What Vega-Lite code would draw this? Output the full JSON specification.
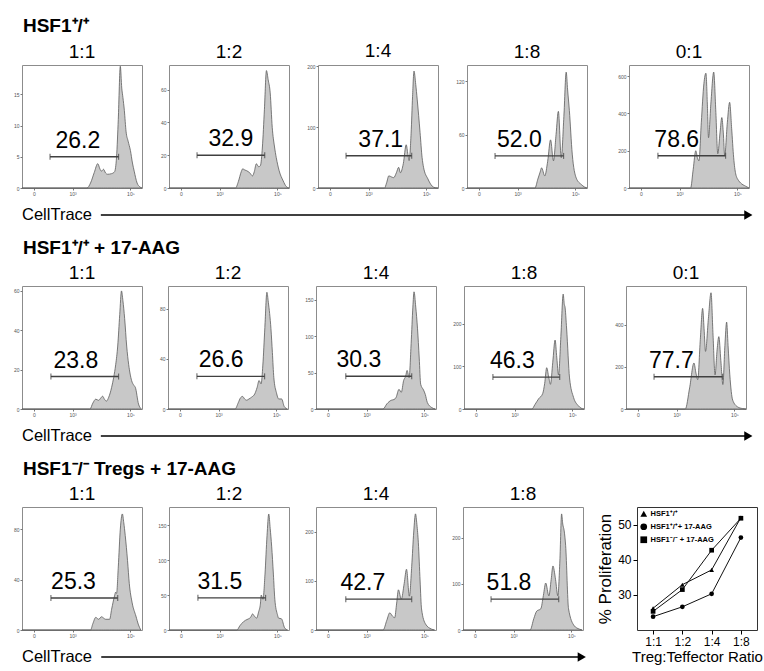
{
"$schema":"https://vega.github.io/schema/vega-lite/v6.json",
"padding":{"left":12,"top":16,"right":0,"bottom":0},
"background":"#ffffff",
"spacing":14,
"resolve":{"scale":{"shape":"independent"},"legend":{"shape":"independent"}},
"datasets":{
"hist":[
{"panel":"a1","x":1.25,"y":0},{"panel":"a1","x":3.5,"y":0},{"panel":"a1","x":3.62,"y":0.8},{"panel":"a1","x":3.75,"y":2.5},{"panel":"a1","x":3.87,"y":3.9},{"panel":"a1","x":3.95,"y":3.0},{"panel":"a1","x":4.0,"y":2.7},{"panel":"a1","x":4.07,"y":3.0},{"panel":"a1","x":4.14,"y":2.4},{"panel":"a1","x":4.21,"y":2.2},{"panel":"a1","x":4.35,"y":2.3},{"panel":"a1","x":4.45,"y":2.6},{"panel":"a1","x":4.52,"y":5},{"panel":"a1","x":4.58,"y":11},{"panel":"a1","x":4.65,"y":19.5},{"panel":"a1","x":4.7,"y":16},{"panel":"a1","x":4.74,"y":14.5},{"panel":"a1","x":4.79,"y":12.4},{"panel":"a1","x":4.85,"y":9},{"panel":"a1","x":4.92,"y":7.5},{"panel":"a1","x":5.0,"y":6},{"panel":"a1","x":5.07,"y":4},{"panel":"a1","x":5.13,"y":2.7},{"panel":"a1","x":5.23,"y":0.8},{"panel":"a1","x":5.32,"y":0.2},{"panel":"a1","x":5.4,"y":0},
{"panel":"a2","x":1.25,"y":0},{"panel":"a2","x":3.55,"y":0},{"panel":"a2","x":3.65,"y":4},{"panel":"a2","x":3.75,"y":10},{"panel":"a2","x":3.8,"y":11.7},{"panel":"a2","x":3.87,"y":11},{"panel":"a2","x":3.94,"y":10.5},{"panel":"a2","x":4.04,"y":9.3},{"panel":"a2","x":4.14,"y":7.4},{"panel":"a2","x":4.2,"y":10},{"panel":"a2","x":4.27,"y":14.8},{"panel":"a2","x":4.35,"y":13},{"panel":"a2","x":4.41,"y":13.6},{"panel":"a2","x":4.48,"y":25},{"panel":"a2","x":4.55,"y":48},{"panel":"a2","x":4.62,"y":71.6},{"panel":"a2","x":4.68,"y":66},{"panel":"a2","x":4.75,"y":58},{"panel":"a2","x":4.82,"y":37},{"panel":"a2","x":4.9,"y":25},{"panel":"a2","x":4.96,"y":18.5},{"panel":"a2","x":5.06,"y":10.5},{"panel":"a2","x":5.2,"y":4.3},{"panel":"a2","x":5.3,"y":1},{"panel":"a2","x":5.4,"y":0},
{"panel":"a3","x":1.25,"y":0},{"panel":"a3","x":3.55,"y":0},{"panel":"a3","x":3.62,"y":8},{"panel":"a3","x":3.7,"y":20},{"panel":"a3","x":3.8,"y":18},{"panel":"a3","x":3.87,"y":17},{"panel":"a3","x":3.96,"y":25},{"panel":"a3","x":4.04,"y":34},{"panel":"a3","x":4.1,"y":25},{"panel":"a3","x":4.2,"y":40},{"panel":"a3","x":4.3,"y":71},{"panel":"a3","x":4.36,"y":55},{"panel":"a3","x":4.4,"y":45},{"panel":"a3","x":4.47,"y":90},{"panel":"a3","x":4.52,"y":150},{"panel":"a3","x":4.57,"y":192},{"panel":"a3","x":4.63,"y":170},{"panel":"a3","x":4.68,"y":146},{"panel":"a3","x":4.78,"y":91},{"panel":"a3","x":4.85,"y":50},{"panel":"a3","x":4.9,"y":34},{"panel":"a3","x":5.05,"y":15},{"panel":"a3","x":5.2,"y":3},{"panel":"a3","x":5.3,"y":0.5},{"panel":"a3","x":5.4,"y":0},
{"panel":"a4","x":1.25,"y":0},{"panel":"a4","x":3.6,"y":0},{"panel":"a4","x":3.7,"y":10},{"panel":"a4","x":3.78,"y":18},{"panel":"a4","x":3.83,"y":22.6},{"panel":"a4","x":3.94,"y":13.6},{"panel":"a4","x":4.04,"y":30},{"panel":"a4","x":4.14,"y":54},{"panel":"a4","x":4.24,"y":30.5},{"panel":"a4","x":4.33,"y":60},{"panel":"a4","x":4.41,"y":86},{"panel":"a4","x":4.51,"y":34},{"panel":"a4","x":4.6,"y":80},{"panel":"a4","x":4.68,"y":130},{"panel":"a4","x":4.73,"y":110},{"panel":"a4","x":4.79,"y":87},{"panel":"a4","x":4.89,"y":38},{"panel":"a4","x":5.03,"y":11},{"panel":"a4","x":5.2,"y":4},{"panel":"a4","x":5.32,"y":1},{"panel":"a4","x":5.4,"y":0},
{"panel":"a5","x":1.25,"y":0},{"panel":"a5","x":3.38,"y":0},{"panel":"a5","x":3.47,"y":100},{"panel":"a5","x":3.56,"y":200},{"panel":"a5","x":3.62,"y":160},{"panel":"a5","x":3.67,"y":146},{"panel":"a5","x":3.75,"y":350},{"panel":"a5","x":3.84,"y":560},{"panel":"a5","x":3.91,"y":616},{"panel":"a5","x":3.96,"y":450},{"panel":"a5","x":4.0,"y":270},{"panel":"a5","x":4.08,"y":450},{"panel":"a5","x":4.18,"y":622},{"panel":"a5","x":4.25,"y":420},{"panel":"a5","x":4.32,"y":184},{"panel":"a5","x":4.4,"y":300},{"panel":"a5","x":4.46,"y":378},{"panel":"a5","x":4.51,"y":300},{"panel":"a5","x":4.56,"y":173},{"panel":"a5","x":4.65,"y":350},{"panel":"a5","x":4.73,"y":460},{"panel":"a5","x":4.8,"y":320},{"panel":"a5","x":4.87,"y":162},{"panel":"a5","x":4.94,"y":76},{"panel":"a5","x":5.04,"y":40},{"panel":"a5","x":5.11,"y":27},{"panel":"a5","x":5.28,"y":10},{"panel":"a5","x":5.4,"y":0},
{"panel":"b1","x":1.25,"y":0},{"panel":"b1","x":3.6,"y":0},{"panel":"b1","x":3.7,"y":3},{"panel":"b1","x":3.8,"y":5},{"panel":"b1","x":3.9,"y":4.4},{"panel":"b1","x":3.97,"y":5.5},{"panel":"b1","x":4.04,"y":6.5},{"panel":"b1","x":4.1,"y":5},{"panel":"b1","x":4.17,"y":4},{"panel":"b1","x":4.25,"y":6},{"panel":"b1","x":4.35,"y":11},{"panel":"b1","x":4.42,"y":16},{"panel":"b1","x":4.49,"y":22.5},{"panel":"b1","x":4.56,"y":32},{"panel":"b1","x":4.63,"y":48},{"panel":"b1","x":4.69,"y":60},{"panel":"b1","x":4.74,"y":55},{"panel":"b1","x":4.8,"y":46},{"panel":"b1","x":4.87,"y":32},{"panel":"b1","x":4.94,"y":22.5},{"panel":"b1","x":5.04,"y":14.5},{"panel":"b1","x":5.12,"y":12},{"panel":"b1","x":5.17,"y":11},{"panel":"b1","x":5.28,"y":2.5},{"panel":"b1","x":5.38,"y":0},
{"panel":"b2","x":1.25,"y":0},{"panel":"b2","x":3.57,"y":0},{"panel":"b2","x":3.68,"y":5},{"panel":"b2","x":3.76,"y":9},{"panel":"b2","x":3.83,"y":10},{"panel":"b2","x":3.9,"y":8},{"panel":"b2","x":3.97,"y":7},{"panel":"b2","x":4.05,"y":8},{"panel":"b2","x":4.14,"y":9.4},{"panel":"b2","x":4.25,"y":12},{"panel":"b2","x":4.33,"y":17},{"panel":"b2","x":4.4,"y":22.7},{"panel":"b2","x":4.47,"y":20},{"panel":"b2","x":4.53,"y":35},{"panel":"b2","x":4.6,"y":65},{"panel":"b2","x":4.67,"y":93},{"panel":"b2","x":4.72,"y":85},{"panel":"b2","x":4.81,"y":64},{"panel":"b2","x":4.86,"y":45},{"panel":"b2","x":4.91,"y":25},{"panel":"b2","x":5.0,"y":13},{"panel":"b2","x":5.08,"y":8},{"panel":"b2","x":5.18,"y":8},{"panel":"b2","x":5.27,"y":2},{"panel":"b2","x":5.38,"y":0},
{"panel":"b3","x":1.25,"y":0},{"panel":"b3","x":3.57,"y":0},{"panel":"b3","x":3.7,"y":7},{"panel":"b3","x":3.85,"y":12},{"panel":"b3","x":3.95,"y":13},{"panel":"b3","x":4.02,"y":16},{"panel":"b3","x":4.12,"y":27},{"panel":"b3","x":4.2,"y":23},{"panel":"b3","x":4.28,"y":39},{"panel":"b3","x":4.35,"y":45},{"panel":"b3","x":4.4,"y":53},{"panel":"b3","x":4.47,"y":43},{"panel":"b3","x":4.54,"y":90},{"panel":"b3","x":4.6,"y":140},{"panel":"b3","x":4.64,"y":161},{"panel":"b3","x":4.7,"y":140},{"panel":"b3","x":4.76,"y":111},{"panel":"b3","x":4.82,"y":70},{"panel":"b3","x":4.87,"y":34},{"panel":"b3","x":4.97,"y":26},{"panel":"b3","x":5.03,"y":20},{"panel":"b3","x":5.1,"y":9},{"panel":"b3","x":5.25,"y":2},{"panel":"b3","x":5.38,"y":0},
{"panel":"b4","x":1.25,"y":0},{"panel":"b4","x":3.6,"y":0},{"panel":"b4","x":3.7,"y":10},{"panel":"b4","x":3.83,"y":24},{"panel":"b4","x":3.97,"y":36},{"panel":"b4","x":4.04,"y":60},{"panel":"b4","x":4.11,"y":97},{"panel":"b4","x":4.18,"y":75},{"panel":"b4","x":4.24,"y":58},{"panel":"b4","x":4.32,"y":110},{"panel":"b4","x":4.4,"y":162},{"panel":"b4","x":4.46,"y":120},{"panel":"b4","x":4.52,"y":80},{"panel":"b4","x":4.6,"y":170},{"panel":"b4","x":4.68,"y":270},{"panel":"b4","x":4.72,"y":245},{"panel":"b4","x":4.74,"y":241},{"panel":"b4","x":4.8,"y":188},{"panel":"b4","x":4.9,"y":73},{"panel":"b4","x":5.04,"y":27},{"panel":"b4","x":5.2,"y":8},{"panel":"b4","x":5.3,"y":2},{"panel":"b4","x":5.4,"y":0},
{"panel":"b5","x":1.25,"y":0},{"panel":"b5","x":3.3,"y":0},{"panel":"b5","x":3.45,"y":100},{"panel":"b5","x":3.6,"y":218},{"panel":"b5","x":3.67,"y":170},{"panel":"b5","x":3.73,"y":139},{"panel":"b5","x":3.82,"y":330},{"panel":"b5","x":3.9,"y":477},{"panel":"b5","x":3.95,"y":380},{"panel":"b5","x":4.0,"y":273},{"panel":"b5","x":4.1,"y":430},{"panel":"b5","x":4.19,"y":551},{"panel":"b5","x":4.26,"y":350},{"panel":"b5","x":4.33,"y":162},{"panel":"b5","x":4.4,"y":280},{"panel":"b5","x":4.46,"y":343},{"panel":"b5","x":4.53,"y":230},{"panel":"b5","x":4.6,"y":116},{"panel":"b5","x":4.67,"y":300},{"panel":"b5","x":4.73,"y":412},{"panel":"b5","x":4.78,"y":300},{"panel":"b5","x":4.84,"y":162},{"panel":"b5","x":4.94,"y":42},{"panel":"b5","x":5.11,"y":10},{"panel":"b5","x":5.28,"y":2},{"panel":"b5","x":5.4,"y":0},
{"panel":"c1","x":1.25,"y":0},{"panel":"c1","x":3.62,"y":0},{"panel":"c1","x":3.7,"y":5},{"panel":"c1","x":3.8,"y":10},{"panel":"c1","x":3.9,"y":8.5},{"panel":"c1","x":4.0,"y":10.5},{"panel":"c1","x":4.07,"y":9.5},{"panel":"c1","x":4.14,"y":8.5},{"panel":"c1","x":4.28,"y":8.5},{"panel":"c1","x":4.35,"y":16.5},{"panel":"c1","x":4.45,"y":27},{"panel":"c1","x":4.49,"y":30},{"panel":"c1","x":4.52,"y":29},{"panel":"c1","x":4.58,"y":50},{"panel":"c1","x":4.65,"y":80},{"panel":"c1","x":4.72,"y":92},{"panel":"c1","x":4.77,"y":85},{"panel":"c1","x":4.82,"y":75},{"panel":"c1","x":4.9,"y":55},{"panel":"c1","x":4.96,"y":37},{"panel":"c1","x":5.06,"y":21.5},{"panel":"c1","x":5.19,"y":11},{"panel":"c1","x":5.28,"y":4},{"panel":"c1","x":5.36,"y":0},
{"panel":"c2","x":1.25,"y":0},{"panel":"c2","x":3.6,"y":0},{"panel":"c2","x":3.7,"y":6},{"panel":"c2","x":3.83,"y":12},{"panel":"c2","x":3.9,"y":14},{"panel":"c2","x":4.0,"y":16},{"panel":"c2","x":4.07,"y":18},{"panel":"c2","x":4.14,"y":23},{"panel":"c2","x":4.2,"y":20},{"panel":"c2","x":4.28,"y":17},{"panel":"c2","x":4.35,"y":26},{"panel":"c2","x":4.41,"y":37},{"panel":"c2","x":4.44,"y":50},{"panel":"c2","x":4.5,"y":44},{"panel":"c2","x":4.57,"y":80},{"panel":"c2","x":4.64,"y":135},{"panel":"c2","x":4.7,"y":166},{"panel":"c2","x":4.75,"y":145},{"panel":"c2","x":4.8,"y":120},{"panel":"c2","x":4.86,"y":80},{"panel":"c2","x":4.91,"y":44},{"panel":"c2","x":5.0,"y":22},{"panel":"c2","x":5.04,"y":17},{"panel":"c2","x":5.14,"y":16},{"panel":"c2","x":5.25,"y":3},{"panel":"c2","x":5.35,"y":0},
{"panel":"c3","x":1.25,"y":0},{"panel":"c3","x":3.57,"y":0},{"panel":"c3","x":3.7,"y":20},{"panel":"c3","x":3.8,"y":35},{"panel":"c3","x":3.9,"y":28},{"panel":"c3","x":3.97,"y":25},{"panel":"c3","x":4.04,"y":55},{"panel":"c3","x":4.1,"y":82},{"panel":"c3","x":4.2,"y":63},{"panel":"c3","x":4.3,"y":95},{"panel":"c3","x":4.38,"y":124},{"panel":"c3","x":4.48,"y":69},{"panel":"c3","x":4.56,"y":130},{"panel":"c3","x":4.63,"y":200},{"panel":"c3","x":4.69,"y":237},{"panel":"c3","x":4.74,"y":215},{"panel":"c3","x":4.79,"y":178},{"panel":"c3","x":4.85,"y":100},{"panel":"c3","x":4.9,"y":43},{"panel":"c3","x":5.04,"y":12},{"panel":"c3","x":5.24,"y":2},{"panel":"c3","x":5.35,"y":0},
{"panel":"c4","x":1.25,"y":0},{"panel":"c4","x":3.57,"y":0},{"panel":"c4","x":3.7,"y":25},{"panel":"c4","x":3.8,"y":41},{"panel":"c4","x":3.94,"y":46},{"panel":"c4","x":4.03,"y":75},{"panel":"c4","x":4.11,"y":102},{"panel":"c4","x":4.22,"y":74},{"panel":"c4","x":4.3,"y":110},{"panel":"c4","x":4.36,"y":139},{"panel":"c4","x":4.45,"y":110},{"panel":"c4","x":4.53,"y":74},{"panel":"c4","x":4.6,"y":150},{"panel":"c4","x":4.66,"y":252},{"panel":"c4","x":4.7,"y":230},{"panel":"c4","x":4.75,"y":215},{"panel":"c4","x":4.8,"y":183},{"panel":"c4","x":4.9,"y":46},{"panel":"c4","x":5.1,"y":9},{"panel":"c4","x":5.27,"y":2},{"panel":"c4","x":5.37,"y":0}
],
"gates":[
{"panel":"a1","x1":2.22,"x2":4.59,"gy":5,"lx":3.18,"pct":"26.2"},
{"panel":"a2","x1":2.22,"x2":4.56,"gy":20,"lx":3.39,"pct":"32.9"},
{"panel":"a3","x1":2.22,"x2":4.49,"gy":53,"lx":3.42,"pct":"37.1"},
{"panel":"a4","x1":2.22,"x2":4.59,"gy":36,"lx":3.06,"pct":"52.0"},
{"panel":"a5","x1":2.25,"x2":4.59,"gy":173,"lx":2.9,"pct":"78.6"},
{"panel":"b1","x1":2.25,"x2":4.59,"gy":16.5,"lx":3.11,"pct":"23.8"},
{"panel":"b2","x1":2.25,"x2":4.59,"gy":26,"lx":3.09,"pct":"26.6"},
{"panel":"b3","x1":2.28,"x2":4.56,"gy":45,"lx":2.73,"pct":"30.3"},
{"panel":"b4","x1":2.25,"x2":4.56,"gy":75,"lx":2.92,"pct":"46.3"},
{"panel":"b5","x1":2.22,"x2":4.59,"gy":153,"lx":2.82,"pct":"77.7"},
{"panel":"c1","x1":2.25,"x2":4.56,"gy":25.4,"lx":3.03,"pct":"25.3"},
{"panel":"c2","x1":2.25,"x2":4.59,"gy":46,"lx":3.01,"pct":"31.5"},
{"panel":"c3","x1":2.28,"x2":4.56,"gy":63,"lx":2.87,"pct":"42.7"},
{"panel":"c4","x1":2.22,"x2":4.56,"gy":67,"lx":2.84,"pct":"51.8"}
],
"prolif":[
{"group":"HSF1⁺/⁺","ratio":"1:1","value":26.2},{"group":"HSF1⁺/⁺","ratio":"1:2","value":32.9},{"group":"HSF1⁺/⁺","ratio":"1:4","value":37.1},{"group":"HSF1⁺/⁺","ratio":"1:8","value":52.0},
{"group":"HSF1⁺/⁺+ 17-AAG","ratio":"1:1","value":23.8},{"group":"HSF1⁺/⁺+ 17-AAG","ratio":"1:2","value":26.6},{"group":"HSF1⁺/⁺+ 17-AAG","ratio":"1:4","value":30.3},{"group":"HSF1⁺/⁺+ 17-AAG","ratio":"1:8","value":46.3},
{"group":"HSF1⁻/⁻ + 17-AAG","ratio":"1:1","value":25.3},{"group":"HSF1⁻/⁻ + 17-AAG","ratio":"1:2","value":31.5},{"group":"HSF1⁻/⁻ + 17-AAG","ratio":"1:4","value":42.7},{"group":"HSF1⁻/⁻ + 17-AAG","ratio":"1:8","value":51.8}
],
"arrows":[
{"row":1,"label":"CellTrace","tx":0,"a":0.108,"b":0.995},
{"row":2,"label":"CellTrace","tx":0,"a":0.108,"b":0.995},
{"row":3,"label":"CellTrace","tx":0,"a":0.14,"b":0.989}
]
},
"vconcat":[
{"title":{"text":"HSF1⁺/⁺","anchor":"start","frame":"bounds","fontSize":19,"fontWeight":"bold","offset":6,"dx":10},
"spacing":10,
"vconcat":[
{"spacing":27,"hconcat":[
{"spacing":14,"hconcat":[
{"title":"1:1","width":120,"height":123,"layer":[
{"data":{"name":"hist"},"transform":[{"filter":"datum.panel=='a1'"}],"mark":{"type":"area","interpolate":"monotone","fill":"#c8c8c8","stroke":"#5c5c5c","strokeWidth":0.8},"encoding":{"x":{"field":"x","type":"quantitative","title":null,"scale":{"domain":[1.25,5.4],"nice":false,"zero":false},"axis":{"values":[1.66,2,3,4,5],"labelExpr":"datum.value<1.8?'0':datum.value<2.5?'10\\u00b2':datum.value<3.5?'10\\u00b3':datum.value<4.5?'10\\u2074':'10\\u2075'","labelOverlap":false}},"y":{"field":"y","type":"quantitative","title":null,"scale":{"domain":[0,19.7],"nice":false},"axis":{"values":[0,5,10,15]}}}},
{"data":{"name":"gates"},"transform":[{"filter":"datum.panel=='a1'"}],"layer":[
{"mark":{"type":"rule","color":"#404040","strokeWidth":1.4},"encoding":{"x":{"field":"x1","type":"quantitative","title":null},"x2":{"field":"x2"},"y":{"field":"gy","type":"quantitative","title":null}}},
{"transform":[{"fold":["x1","x2"],"as":["end","xe"]}],"mark":{"type":"tick","orient":"vertical","color":"#404040","size":6,"thickness":1.2},"encoding":{"x":{"field":"xe","type":"quantitative","title":null},"y":{"field":"gy","type":"quantitative","title":null}}},
{"mark":{"type":"text","fontSize":23,"baseline":"alphabetic","dy":-9,"color":"#000"},"encoding":{"x":{"field":"lx","type":"quantitative","title":null},"y":{"field":"gy","type":"quantitative","title":null},"text":{"field":"pct"}}}]}]},
{"title":"1:2","width":120,"height":123,"layer":[
{"data":{"name":"hist"},"transform":[{"filter":"datum.panel=='a2'"}],"mark":{"type":"area","interpolate":"monotone","fill":"#c8c8c8","stroke":"#5c5c5c","strokeWidth":0.8},"encoding":{"x":{"field":"x","type":"quantitative","title":null,"scale":{"domain":[1.25,5.4],"nice":false,"zero":false},"axis":{"values":[1.66,2,3,4,5],"labelExpr":"datum.value<1.8?'0':datum.value<2.5?'10\\u00b2':datum.value<3.5?'10\\u00b3':datum.value<4.5?'10\\u2074':'10\\u2075'","labelOverlap":false}},"y":{"field":"y","type":"quantitative","title":null,"scale":{"domain":[0,75],"nice":false},"axis":{"values":[0,20,40,60]}}}},
{"data":{"name":"gates"},"transform":[{"filter":"datum.panel=='a2'"}],"layer":[
{"mark":{"type":"rule","color":"#404040","strokeWidth":1.4},"encoding":{"x":{"field":"x1","type":"quantitative","title":null},"x2":{"field":"x2"},"y":{"field":"gy","type":"quantitative","title":null}}},
{"transform":[{"fold":["x1","x2"],"as":["end","xe"]}],"mark":{"type":"tick","orient":"vertical","color":"#404040","size":6,"thickness":1.2},"encoding":{"x":{"field":"xe","type":"quantitative","title":null},"y":{"field":"gy","type":"quantitative","title":null}}},
{"mark":{"type":"text","fontSize":23,"baseline":"alphabetic","dy":-9,"color":"#000"},"encoding":{"x":{"field":"lx","type":"quantitative","title":null},"y":{"field":"gy","type":"quantitative","title":null},"text":{"field":"pct"}}}]}]},
{"title":"1:4","width":120,"height":123,"layer":[
{"data":{"name":"hist"},"transform":[{"filter":"datum.panel=='a3'"}],"mark":{"type":"area","interpolate":"monotone","fill":"#c8c8c8","stroke":"#5c5c5c","strokeWidth":0.8},"encoding":{"x":{"field":"x","type":"quantitative","title":null,"scale":{"domain":[1.25,5.4],"nice":false,"zero":false},"axis":{"values":[1.66,2,3,4,5],"labelExpr":"datum.value<1.8?'0':datum.value<2.5?'10\\u00b2':datum.value<3.5?'10\\u00b3':datum.value<4.5?'10\\u2074':'10\\u2075'","labelOverlap":false}},"y":{"field":"y","type":"quantitative","title":null,"scale":{"domain":[0,202],"nice":false},"axis":{"values":[0,50,100,150,200]}}}},
{"data":{"name":"gates"},"transform":[{"filter":"datum.panel=='a3'"}],"layer":[
{"mark":{"type":"rule","color":"#404040","strokeWidth":1.4},"encoding":{"x":{"field":"x1","type":"quantitative","title":null},"x2":{"field":"x2"},"y":{"field":"gy","type":"quantitative","title":null}}},
{"transform":[{"fold":["x1","x2"],"as":["end","xe"]}],"mark":{"type":"tick","orient":"vertical","color":"#404040","size":6,"thickness":1.2},"encoding":{"x":{"field":"xe","type":"quantitative","title":null},"y":{"field":"gy","type":"quantitative","title":null}}},
{"mark":{"type":"text","fontSize":23,"baseline":"alphabetic","dy":-9,"color":"#000"},"encoding":{"x":{"field":"lx","type":"quantitative","title":null},"y":{"field":"gy","type":"quantitative","title":null},"text":{"field":"pct"}}}]}]},
{"title":"1:8","width":120,"height":123,"layer":[
{"data":{"name":"hist"},"transform":[{"filter":"datum.panel=='a4'"}],"mark":{"type":"area","interpolate":"monotone","fill":"#c8c8c8","stroke":"#5c5c5c","strokeWidth":0.8},"encoding":{"x":{"field":"x","type":"quantitative","title":null,"scale":{"domain":[1.25,5.4],"nice":false,"zero":false},"axis":{"values":[1.66,2,3,4,5],"labelExpr":"datum.value<1.8?'0':datum.value<2.5?'10\\u00b2':datum.value<3.5?'10\\u00b3':datum.value<4.5?'10\\u2074':'10\\u2075'","labelOverlap":false}},"y":{"field":"y","type":"quantitative","title":null,"scale":{"domain":[0,138],"nice":false},"axis":{"values":[0,30,60,90,120]}}}},
{"data":{"name":"gates"},"transform":[{"filter":"datum.panel=='a4'"}],"layer":[
{"mark":{"type":"rule","color":"#404040","strokeWidth":1.4},"encoding":{"x":{"field":"x1","type":"quantitative","title":null},"x2":{"field":"x2"},"y":{"field":"gy","type":"quantitative","title":null}}},
{"transform":[{"fold":["x1","x2"],"as":["end","xe"]}],"mark":{"type":"tick","orient":"vertical","color":"#404040","size":6,"thickness":1.2},"encoding":{"x":{"field":"xe","type":"quantitative","title":null},"y":{"field":"gy","type":"quantitative","title":null}}},
{"mark":{"type":"text","fontSize":23,"baseline":"alphabetic","dy":-9,"color":"#000"},"encoding":{"x":{"field":"lx","type":"quantitative","title":null},"y":{"field":"gy","type":"quantitative","title":null},"text":{"field":"pct"}}}]}]}
]},
{"title":"0:1","width":120,"height":123,"layer":[
{"data":{"name":"hist"},"transform":[{"filter":"datum.panel=='a5'"}],"mark":{"type":"area","interpolate":"monotone","fill":"#c8c8c8","stroke":"#5c5c5c","strokeWidth":0.8},"encoding":{"x":{"field":"x","type":"quantitative","title":null,"scale":{"domain":[1.25,5.4],"nice":false,"zero":false},"axis":{"values":[1.66,2,3,4,5],"labelExpr":"datum.value<1.8?'0':datum.value<2.5?'10\\u00b2':datum.value<3.5?'10\\u00b3':datum.value<4.5?'10\\u2074':'10\\u2075'","labelOverlap":false}},"y":{"field":"y","type":"quantitative","title":null,"scale":{"domain":[0,660],"nice":false},"axis":{"values":[0,200,400,600]}}}},
{"data":{"name":"gates"},"transform":[{"filter":"datum.panel=='a5'"}],"layer":[
{"mark":{"type":"rule","color":"#404040","strokeWidth":1.4},"encoding":{"x":{"field":"x1","type":"quantitative","title":null},"x2":{"field":"x2"},"y":{"field":"gy","type":"quantitative","title":null}}},
{"transform":[{"fold":["x1","x2"],"as":["end","xe"]}],"mark":{"type":"tick","orient":"vertical","color":"#404040","size":6,"thickness":1.2},"encoding":{"x":{"field":"xe","type":"quantitative","title":null},"y":{"field":"gy","type":"quantitative","title":null}}},
{"mark":{"type":"text","fontSize":23,"baseline":"alphabetic","dy":-9,"color":"#000"},"encoding":{"x":{"field":"lx","type":"quantitative","title":null},"y":{"field":"gy","type":"quantitative","title":null},"text":{"field":"pct"}}}]}]}
]},
{"width":730,"height":10,"view":{"stroke":null},"data":{"name":"arrows"},"transform":[{"filter":"datum.row==1"}],"layer":[
{"mark":{"type":"text","align":"left","baseline":"middle","fontSize":16.5,"color":"#000"},"encoding":{"x":{"field":"tx","type":"quantitative","scale":{"domain":[0,1]},"axis":null},"y":{"datum":0,"type":"quantitative","scale":{"domain":[-1,1]},"axis":null},"text":{"field":"label"}}},
{"mark":{"type":"rule","color":"#000","strokeWidth":1.3},"encoding":{"x":{"field":"a","type":"quantitative","axis":null},"x2":{"field":"b"},"y":{"datum":0,"type":"quantitative","axis":null}}},
{"mark":{"type":"point","shape":"triangle-right","filled":true,"color":"#000","opacity":1,"size":90},"encoding":{"x":{"field":"b","type":"quantitative","axis":null},"y":{"datum":0,"type":"quantitative","axis":null}}}]}
]},
{"title":{"text":"HSF1⁺/⁺ + 17-AAG","anchor":"start","frame":"bounds","fontSize":19,"fontWeight":"bold","offset":6,"dx":10},
"spacing":10,
"vconcat":[
{"spacing":27,"hconcat":[
{"spacing":14,"hconcat":[
{"title":"1:1","width":120,"height":123,"layer":[
{"data":{"name":"hist"},"transform":[{"filter":"datum.panel=='b1'"}],"mark":{"type":"area","interpolate":"monotone","fill":"#c8c8c8","stroke":"#5c5c5c","strokeWidth":0.8},"encoding":{"x":{"field":"x","type":"quantitative","title":null,"scale":{"domain":[1.25,5.4],"nice":false,"zero":false},"axis":{"values":[1.66,2,3,4,5],"labelExpr":"datum.value<1.8?'0':datum.value<2.5?'10\\u00b2':datum.value<3.5?'10\\u00b3':datum.value<4.5?'10\\u2074':'10\\u2075'","labelOverlap":false}},"y":{"field":"y","type":"quantitative","title":null,"scale":{"domain":[0,62.5],"nice":false},"axis":{"values":[0,20,40,60]}}}},
{"data":{"name":"gates"},"transform":[{"filter":"datum.panel=='b1'"}],"layer":[
{"mark":{"type":"rule","color":"#404040","strokeWidth":1.4},"encoding":{"x":{"field":"x1","type":"quantitative","title":null},"x2":{"field":"x2"},"y":{"field":"gy","type":"quantitative","title":null}}},
{"transform":[{"fold":["x1","x2"],"as":["end","xe"]}],"mark":{"type":"tick","orient":"vertical","color":"#404040","size":6,"thickness":1.2},"encoding":{"x":{"field":"xe","type":"quantitative","title":null},"y":{"field":"gy","type":"quantitative","title":null}}},
{"mark":{"type":"text","fontSize":23,"baseline":"alphabetic","dy":-9,"color":"#000"},"encoding":{"x":{"field":"lx","type":"quantitative","title":null},"y":{"field":"gy","type":"quantitative","title":null},"text":{"field":"pct"}}}]}]},
{"title":"1:2","width":120,"height":123,"layer":[
{"data":{"name":"hist"},"transform":[{"filter":"datum.panel=='b2'"}],"mark":{"type":"area","interpolate":"monotone","fill":"#c8c8c8","stroke":"#5c5c5c","strokeWidth":0.8},"encoding":{"x":{"field":"x","type":"quantitative","title":null,"scale":{"domain":[1.25,5.4],"nice":false,"zero":false},"axis":{"values":[1.66,2,3,4,5],"labelExpr":"datum.value<1.8?'0':datum.value<2.5?'10\\u00b2':datum.value<3.5?'10\\u00b3':datum.value<4.5?'10\\u2074':'10\\u2075'","labelOverlap":false}},"y":{"field":"y","type":"quantitative","title":null,"scale":{"domain":[0,98],"nice":false},"axis":{"values":[0,20,40,60,80]}}}},
{"data":{"name":"gates"},"transform":[{"filter":"datum.panel=='b2'"}],"layer":[
{"mark":{"type":"rule","color":"#404040","strokeWidth":1.4},"encoding":{"x":{"field":"x1","type":"quantitative","title":null},"x2":{"field":"x2"},"y":{"field":"gy","type":"quantitative","title":null}}},
{"transform":[{"fold":["x1","x2"],"as":["end","xe"]}],"mark":{"type":"tick","orient":"vertical","color":"#404040","size":6,"thickness":1.2},"encoding":{"x":{"field":"xe","type":"quantitative","title":null},"y":{"field":"gy","type":"quantitative","title":null}}},
{"mark":{"type":"text","fontSize":23,"baseline":"alphabetic","dy":-9,"color":"#000"},"encoding":{"x":{"field":"lx","type":"quantitative","title":null},"y":{"field":"gy","type":"quantitative","title":null},"text":{"field":"pct"}}}]}]},
{"title":"1:4","width":120,"height":123,"layer":[
{"data":{"name":"hist"},"transform":[{"filter":"datum.panel=='b3'"}],"mark":{"type":"area","interpolate":"monotone","fill":"#c8c8c8","stroke":"#5c5c5c","strokeWidth":0.8},"encoding":{"x":{"field":"x","type":"quantitative","title":null,"scale":{"domain":[1.25,5.4],"nice":false,"zero":false},"axis":{"values":[1.66,2,3,4,5],"labelExpr":"datum.value<1.8?'0':datum.value<2.5?'10\\u00b2':datum.value<3.5?'10\\u00b3':datum.value<4.5?'10\\u2074':'10\\u2075'","labelOverlap":false}},"y":{"field":"y","type":"quantitative","title":null,"scale":{"domain":[0,169],"nice":false},"axis":{"values":[0,50,100,150]}}}},
{"data":{"name":"gates"},"transform":[{"filter":"datum.panel=='b3'"}],"layer":[
{"mark":{"type":"rule","color":"#404040","strokeWidth":1.4},"encoding":{"x":{"field":"x1","type":"quantitative","title":null},"x2":{"field":"x2"},"y":{"field":"gy","type":"quantitative","title":null}}},
{"transform":[{"fold":["x1","x2"],"as":["end","xe"]}],"mark":{"type":"tick","orient":"vertical","color":"#404040","size":6,"thickness":1.2},"encoding":{"x":{"field":"xe","type":"quantitative","title":null},"y":{"field":"gy","type":"quantitative","title":null}}},
{"mark":{"type":"text","fontSize":23,"baseline":"alphabetic","dy":-9,"color":"#000"},"encoding":{"x":{"field":"lx","type":"quantitative","title":null},"y":{"field":"gy","type":"quantitative","title":null},"text":{"field":"pct"}}}]}]},
{"title":"1:8","width":120,"height":123,"layer":[
{"data":{"name":"hist"},"transform":[{"filter":"datum.panel=='b4'"}],"mark":{"type":"area","interpolate":"monotone","fill":"#c8c8c8","stroke":"#5c5c5c","strokeWidth":0.8},"encoding":{"x":{"field":"x","type":"quantitative","title":null,"scale":{"domain":[1.25,5.4],"nice":false,"zero":false},"axis":{"values":[1.66,2,3,4,5],"labelExpr":"datum.value<1.8?'0':datum.value<2.5?'10\\u00b2':datum.value<3.5?'10\\u00b3':datum.value<4.5?'10\\u2074':'10\\u2075'","labelOverlap":false}},"y":{"field":"y","type":"quantitative","title":null,"scale":{"domain":[0,289],"nice":false},"axis":{"values":[0,50,100,150,200,250]}}}},
{"data":{"name":"gates"},"transform":[{"filter":"datum.panel=='b4'"}],"layer":[
{"mark":{"type":"rule","color":"#404040","strokeWidth":1.4},"encoding":{"x":{"field":"x1","type":"quantitative","title":null},"x2":{"field":"x2"},"y":{"field":"gy","type":"quantitative","title":null}}},
{"transform":[{"fold":["x1","x2"],"as":["end","xe"]}],"mark":{"type":"tick","orient":"vertical","color":"#404040","size":6,"thickness":1.2},"encoding":{"x":{"field":"xe","type":"quantitative","title":null},"y":{"field":"gy","type":"quantitative","title":null}}},
{"mark":{"type":"text","fontSize":23,"baseline":"alphabetic","dy":-9,"color":"#000"},"encoding":{"x":{"field":"lx","type":"quantitative","title":null},"y":{"field":"gy","type":"quantitative","title":null},"text":{"field":"pct"}}}]}]}
]},
{"title":"0:1","width":120,"height":123,"layer":[
{"data":{"name":"hist"},"transform":[{"filter":"datum.panel=='b5'"}],"mark":{"type":"area","interpolate":"monotone","fill":"#c8c8c8","stroke":"#5c5c5c","strokeWidth":0.8},"encoding":{"x":{"field":"x","type":"quantitative","title":null,"scale":{"domain":[1.25,5.4],"nice":false,"zero":false},"axis":{"values":[1.66,2,3,4,5],"labelExpr":"datum.value<1.8?'0':datum.value<2.5?'10\\u00b2':datum.value<3.5?'10\\u00b3':datum.value<4.5?'10\\u2074':'10\\u2075'","labelOverlap":false}},"y":{"field":"y","type":"quantitative","title":null,"scale":{"domain":[0,583],"nice":false},"axis":{"values":[0,100,200,300,400,500]}}}},
{"data":{"name":"gates"},"transform":[{"filter":"datum.panel=='b5'"}],"layer":[
{"mark":{"type":"rule","color":"#404040","strokeWidth":1.4},"encoding":{"x":{"field":"x1","type":"quantitative","title":null},"x2":{"field":"x2"},"y":{"field":"gy","type":"quantitative","title":null}}},
{"transform":[{"fold":["x1","x2"],"as":["end","xe"]}],"mark":{"type":"tick","orient":"vertical","color":"#404040","size":6,"thickness":1.2},"encoding":{"x":{"field":"xe","type":"quantitative","title":null},"y":{"field":"gy","type":"quantitative","title":null}}},
{"mark":{"type":"text","fontSize":23,"baseline":"alphabetic","dy":-9,"color":"#000"},"encoding":{"x":{"field":"lx","type":"quantitative","title":null},"y":{"field":"gy","type":"quantitative","title":null},"text":{"field":"pct"}}}]}]}
]},
{"width":730,"height":10,"view":{"stroke":null},"data":{"name":"arrows"},"transform":[{"filter":"datum.row==2"}],"layer":[
{"mark":{"type":"text","align":"left","baseline":"middle","fontSize":16.5,"color":"#000"},"encoding":{"x":{"field":"tx","type":"quantitative","scale":{"domain":[0,1]},"axis":null},"y":{"datum":0,"type":"quantitative","scale":{"domain":[-1,1]},"axis":null},"text":{"field":"label"}}},
{"mark":{"type":"rule","color":"#000","strokeWidth":1.3},"encoding":{"x":{"field":"a","type":"quantitative","axis":null},"x2":{"field":"b"},"y":{"datum":0,"type":"quantitative","axis":null}}},
{"mark":{"type":"point","shape":"triangle-right","filled":true,"color":"#000","opacity":1,"size":90},"encoding":{"x":{"field":"b","type":"quantitative","axis":null},"y":{"datum":0,"type":"quantitative","axis":null}}}]}
]},
{"title":{"text":"HSF1⁻/⁻ Tregs + 17-AAG","anchor":"start","frame":"bounds","fontSize":19,"fontWeight":"bold","offset":6,"dx":10},
"spacing":8,
"resolve":{"scale":{"shape":"independent"},"legend":{"shape":"independent"}},
"hconcat":[
{"spacing":10,"vconcat":[
{"spacing":14,"hconcat":[
{"title":"1:1","width":120,"height":123,"layer":[
{"data":{"name":"hist"},"transform":[{"filter":"datum.panel=='c1'"}],"mark":{"type":"area","interpolate":"monotone","fill":"#c8c8c8","stroke":"#5c5c5c","strokeWidth":0.8},"encoding":{"x":{"field":"x","type":"quantitative","title":null,"scale":{"domain":[1.25,5.4],"nice":false,"zero":false},"axis":{"values":[1.66,2,3,4,5],"labelExpr":"datum.value<1.8?'0':datum.value<2.5?'10\\u00b2':datum.value<3.5?'10\\u00b3':datum.value<4.5?'10\\u2074':'10\\u2075'","labelOverlap":false}},"y":{"field":"y","type":"quantitative","title":null,"scale":{"domain":[0,97.5],"nice":false},"axis":{"values":[0,20,40,60,80]}}}},
{"data":{"name":"gates"},"transform":[{"filter":"datum.panel=='c1'"}],"layer":[
{"mark":{"type":"rule","color":"#404040","strokeWidth":1.4},"encoding":{"x":{"field":"x1","type":"quantitative","title":null},"x2":{"field":"x2"},"y":{"field":"gy","type":"quantitative","title":null}}},
{"transform":[{"fold":["x1","x2"],"as":["end","xe"]}],"mark":{"type":"tick","orient":"vertical","color":"#404040","size":6,"thickness":1.2},"encoding":{"x":{"field":"xe","type":"quantitative","title":null},"y":{"field":"gy","type":"quantitative","title":null}}},
{"mark":{"type":"text","fontSize":23,"baseline":"alphabetic","dy":-9,"color":"#000"},"encoding":{"x":{"field":"lx","type":"quantitative","title":null},"y":{"field":"gy","type":"quantitative","title":null},"text":{"field":"pct"}}}]}]},
{"title":"1:2","width":120,"height":123,"layer":[
{"data":{"name":"hist"},"transform":[{"filter":"datum.panel=='c2'"}],"mark":{"type":"area","interpolate":"monotone","fill":"#c8c8c8","stroke":"#5c5c5c","strokeWidth":0.8},"encoding":{"x":{"field":"x","type":"quantitative","title":null,"scale":{"domain":[1.25,5.4],"nice":false,"zero":false},"axis":{"values":[1.66,2,3,4,5],"labelExpr":"datum.value<1.8?'0':datum.value<2.5?'10\\u00b2':datum.value<3.5?'10\\u00b3':datum.value<4.5?'10\\u2074':'10\\u2075'","labelOverlap":false}},"y":{"field":"y","type":"quantitative","title":null,"scale":{"domain":[0,176],"nice":false},"axis":{"values":[0,50,100,150]}}}},
{"data":{"name":"gates"},"transform":[{"filter":"datum.panel=='c2'"}],"layer":[
{"mark":{"type":"rule","color":"#404040","strokeWidth":1.4},"encoding":{"x":{"field":"x1","type":"quantitative","title":null},"x2":{"field":"x2"},"y":{"field":"gy","type":"quantitative","title":null}}},
{"transform":[{"fold":["x1","x2"],"as":["end","xe"]}],"mark":{"type":"tick","orient":"vertical","color":"#404040","size":6,"thickness":1.2},"encoding":{"x":{"field":"xe","type":"quantitative","title":null},"y":{"field":"gy","type":"quantitative","title":null}}},
{"mark":{"type":"text","fontSize":23,"baseline":"alphabetic","dy":-9,"color":"#000"},"encoding":{"x":{"field":"lx","type":"quantitative","title":null},"y":{"field":"gy","type":"quantitative","title":null},"text":{"field":"pct"}}}]}]},
{"title":"1:4","width":120,"height":123,"layer":[
{"data":{"name":"hist"},"transform":[{"filter":"datum.panel=='c3'"}],"mark":{"type":"area","interpolate":"monotone","fill":"#c8c8c8","stroke":"#5c5c5c","strokeWidth":0.8},"encoding":{"x":{"field":"x","type":"quantitative","title":null,"scale":{"domain":[1.25,5.4],"nice":false,"zero":false},"axis":{"values":[1.66,2,3,4,5],"labelExpr":"datum.value<1.8?'0':datum.value<2.5?'10\\u00b2':datum.value<3.5?'10\\u00b3':datum.value<4.5?'10\\u2074':'10\\u2075'","labelOverlap":false}},"y":{"field":"y","type":"quantitative","title":null,"scale":{"domain":[0,251],"nice":false},"axis":{"values":[0,50,100,150,200]}}}},
{"data":{"name":"gates"},"transform":[{"filter":"datum.panel=='c3'"}],"layer":[
{"mark":{"type":"rule","color":"#404040","strokeWidth":1.4},"encoding":{"x":{"field":"x1","type":"quantitative","title":null},"x2":{"field":"x2"},"y":{"field":"gy","type":"quantitative","title":null}}},
{"transform":[{"fold":["x1","x2"],"as":["end","xe"]}],"mark":{"type":"tick","orient":"vertical","color":"#404040","size":6,"thickness":1.2},"encoding":{"x":{"field":"xe","type":"quantitative","title":null},"y":{"field":"gy","type":"quantitative","title":null}}},
{"mark":{"type":"text","fontSize":23,"baseline":"alphabetic","dy":-9,"color":"#000"},"encoding":{"x":{"field":"lx","type":"quantitative","title":null},"y":{"field":"gy","type":"quantitative","title":null},"text":{"field":"pct"}}}]}]},
{"title":"1:8","width":120,"height":123,"layer":[
{"data":{"name":"hist"},"transform":[{"filter":"datum.panel=='c4'"}],"mark":{"type":"area","interpolate":"monotone","fill":"#c8c8c8","stroke":"#5c5c5c","strokeWidth":0.8},"encoding":{"x":{"field":"x","type":"quantitative","title":null,"scale":{"domain":[1.25,5.4],"nice":false,"zero":false},"axis":{"values":[1.66,2,3,4,5],"labelExpr":"datum.value<1.8?'0':datum.value<2.5?'10\\u00b2':datum.value<3.5?'10\\u00b3':datum.value<4.5?'10\\u2074':'10\\u2075'","labelOverlap":false}},"y":{"field":"y","type":"quantitative","title":null,"scale":{"domain":[0,267],"nice":false},"axis":{"values":[0,50,100,150,200,250]}}}},
{"data":{"name":"gates"},"transform":[{"filter":"datum.panel=='c4'"}],"layer":[
{"mark":{"type":"rule","color":"#404040","strokeWidth":1.4},"encoding":{"x":{"field":"x1","type":"quantitative","title":null},"x2":{"field":"x2"},"y":{"field":"gy","type":"quantitative","title":null}}},
{"transform":[{"fold":["x1","x2"],"as":["end","xe"]}],"mark":{"type":"tick","orient":"vertical","color":"#404040","size":6,"thickness":1.2},"encoding":{"x":{"field":"xe","type":"quantitative","title":null},"y":{"field":"gy","type":"quantitative","title":null}}},
{"mark":{"type":"text","fontSize":23,"baseline":"alphabetic","dy":-9,"color":"#000"},"encoding":{"x":{"field":"lx","type":"quantitative","title":null},"y":{"field":"gy","type":"quantitative","title":null},"text":{"field":"pct"}}}]}]}
]},
{"width":566,"height":10,"view":{"stroke":null},"data":{"name":"arrows"},"transform":[{"filter":"datum.row==3"}],"layer":[
{"mark":{"type":"text","align":"left","baseline":"middle","fontSize":16.5,"color":"#000"},"encoding":{"x":{"field":"tx","type":"quantitative","scale":{"domain":[0,1]},"axis":null},"y":{"datum":0,"type":"quantitative","scale":{"domain":[-1,1]},"axis":null},"text":{"field":"label"}}},
{"mark":{"type":"rule","color":"#000","strokeWidth":1.3},"encoding":{"x":{"field":"a","type":"quantitative","axis":null},"x2":{"field":"b"},"y":{"datum":0,"type":"quantitative","axis":null}}},
{"mark":{"type":"point","shape":"triangle-right","filled":true,"color":"#000","opacity":1,"size":90},"encoding":{"x":{"field":"b","type":"quantitative","axis":null},"y":{"datum":0,"type":"quantitative","axis":null}}}]}
]},
{"title":" ","width":120,"height":123,"view":{"stroke":"#333"},"data":{"name":"prolif"},
"encoding":{
"x":{"field":"ratio","type":"ordinal","sort":["1:1","1:2","1:4","1:8"],"scale":{"type":"point","padding":0.55},"axis":{"title":"Treg:Teffector Ratio","labelAngle":0,"labelFontSize":12,"labelColor":"#000","tickColor":"#000","tickSize":4,"labelPadding":2,"titleFontSize":15,"titleFontWeight":"normal","titleColor":"#000","titlePadding":2}},
"y":{"field":"value","type":"quantitative","scale":{"domain":[20,55],"nice":false,"zero":false},"axis":{"title":"% Proliferation","values":[30,40,50],"labelFontSize":12,"labelColor":"#000","tickColor":"#000","tickSize":4,"labelPadding":2,"titleFontSize":17,"titleFontWeight":"normal","titleColor":"#000","titlePadding":3}}},
"layer":[
{"mark":{"type":"line","color":"#111","strokeWidth":1},"encoding":{"detail":{"field":"group","type":"nominal"}}},
{"mark":{"type":"point","filled":true,"color":"#000","opacity":1,"size":22},"encoding":{"shape":{"field":"group","type":"nominal","scale":{"domain":["HSF1⁺/⁺","HSF1⁺/⁺+ 17-AAG","HSF1⁻/⁻ + 17-AAG"],"range":["triangle-up","circle","square"]},"legend":{"orient":"top-left","title":null,"offset":3,"padding":0,"labelFontSize":7.5,"labelFontWeight":"bold","labelColor":"#000","symbolSize":45,"symbolFillColor":"#000","symbolStrokeWidth":0,"rowPadding":4,"labelOffset":3}}}}
]}
]}
],
"config":{
"font":"Liberation Sans",
"view":{"stroke":"#8c8c8c","strokeWidth":1},
"axis":{"labelFontSize":5,"labelColor":"#555","tickColor":"#777","tickSize":2,"domain":false,"grid":false,"labelPadding":1},
"title":{"fontSize":19,"fontWeight":"normal","offset":3,"color":"#000"}
}
}
